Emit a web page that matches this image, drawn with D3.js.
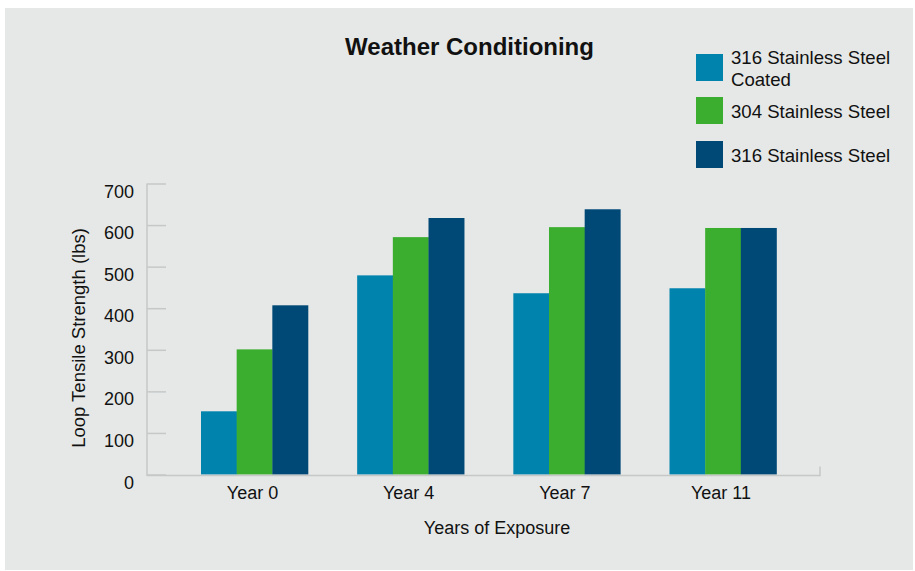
<!DOCTYPE html>
<html><head><meta charset="utf-8">
<script src="https://cdn.jsdelivr.net/npm/d3@7"></script>
<style>
html,body{margin:0;padding:0;background:#fff;}
svg text{font-family:"Liberation Sans",Arial,Helvetica,sans-serif;fill:#111;}
</style></head>
<body>
<svg id="chart" width="915" height="571"></svg>
<script>
const years = ["Year 0","Year 4","Year 7","Year 11"];
const seriesNames = ["316 Stainless Steel Coated","304 Stainless Steel","316 Stainless Steel"];
const coated316 = [152, 479, 436, 448];
const steel304 = [301, 571, 595, 593];
const steel316 = [407, 617, 638, 593];
const yTicks = [0,100,200,300,400,500,600,700];
const colors = ["#0083ad","#3bad2f","#004876"];

const svg = d3.select("#chart");
svg.append("rect").attr("x",5).attr("y",8).attr("width",908).attr("height",562).attr("fill","#e6e8e7");

const y = d3.scaleLinear().domain([0,700]).range([474.5,183.5]);
const x0 = d3.scalePoint().domain(years).range([254.5,723]);
const x1 = d3.scaleBand().domain(seriesNames).range([-53.5,53.5]);
const values = [coated316, steel304, steel316];

// y axis
const yAxis = svg.append("g").attr("transform","translate(147,0)")
  .call(d3.axisRight(y).tickValues(yTicks).tickSize(19).tickFormat(""));
yAxis.select(".domain").remove();
yAxis.selectAll("line").attr("stroke","#c6c8c8").attr("stroke-width",1.5);
svg.append("line").attr("x1",147).attr("x2",147).attr("y1",y(700)).attr("y2",y(0)+1)
  .attr("stroke","#c6c8c8").attr("stroke-width",1.5);
svg.append("g").selectAll("text").data(yTicks).join("text")
  .attr("x",134).attr("y",d=>y(d)+8).attr("text-anchor","end").attr("dominant-baseline","central")
  .attr("font-size",18).text(d=>d);

// bars
const g = svg.append("g");
years.forEach((yr,i)=>{
  seriesNames.forEach((s,j)=>{
    g.append("rect").attr("x",x0(yr)+x1(s)).attr("width",x1.bandwidth()+0.3)
      .attr("y",y(values[j][i])).attr("height",y(0)-y(values[j][i])).attr("fill",colors[j]);
  });
});

// x axis
svg.append("line").attr("x1",146.5).attr("x2",820).attr("y1",y(0)+1).attr("y2",y(0)+1)
  .attr("stroke","#c6c8c8").attr("stroke-width",1.5);
svg.append("line").attr("x1",820).attr("x2",820).attr("y1",y(0)-8).attr("y2",y(0)+1.7)
  .attr("stroke","#c6c8c8").attr("stroke-width",1.5);
svg.append("g").selectAll("text").data(years).join("text")
  .attr("x",d=>x0(d)-2).attr("y",493).attr("text-anchor","middle").attr("dominant-baseline","central")
  .attr("font-size",18).text(d=>d);

// axis titles
svg.append("text").attr("x",497).attr("y",528).attr("text-anchor","middle").attr("dominant-baseline","central")
  .attr("font-size",18).text("Years of Exposure");
svg.append("text").attr("transform","translate(78,338) rotate(-90)").attr("text-anchor","middle")
  .attr("dominant-baseline","central").attr("font-size",18.5).text("Loop Tensile Strength (lbs)");

// title
svg.append("text").attr("x",469.5).attr("y",46).attr("text-anchor","middle").attr("dominant-baseline","central")
  .attr("font-size",24).attr("font-weight","bold").text("Weather Conditioning");

// legend
const legendLines = [["316 Stainless Steel","Coated"],["304 Stainless Steel"],["316 Stainless Steel"]];
const legY = [54,97,141];
seriesNames.forEach((s,j)=>{
  svg.append("rect").attr("x",696).attr("y",legY[j]).attr("width",27).attr("height",27).attr("fill",colors[j]);
  const t = svg.append("text").attr("x",731).attr("font-size",18.6);
  const n = legendLines[j].length;
  legendLines[j].forEach((ln,k)=>{
    t.append("tspan").attr("x",731).attr("y",legY[j]+13.5+(k-(n-1)/2)*21.5+1)
      .attr("dominant-baseline","central").text(ln);
  });
});
</script>
</body></html>
